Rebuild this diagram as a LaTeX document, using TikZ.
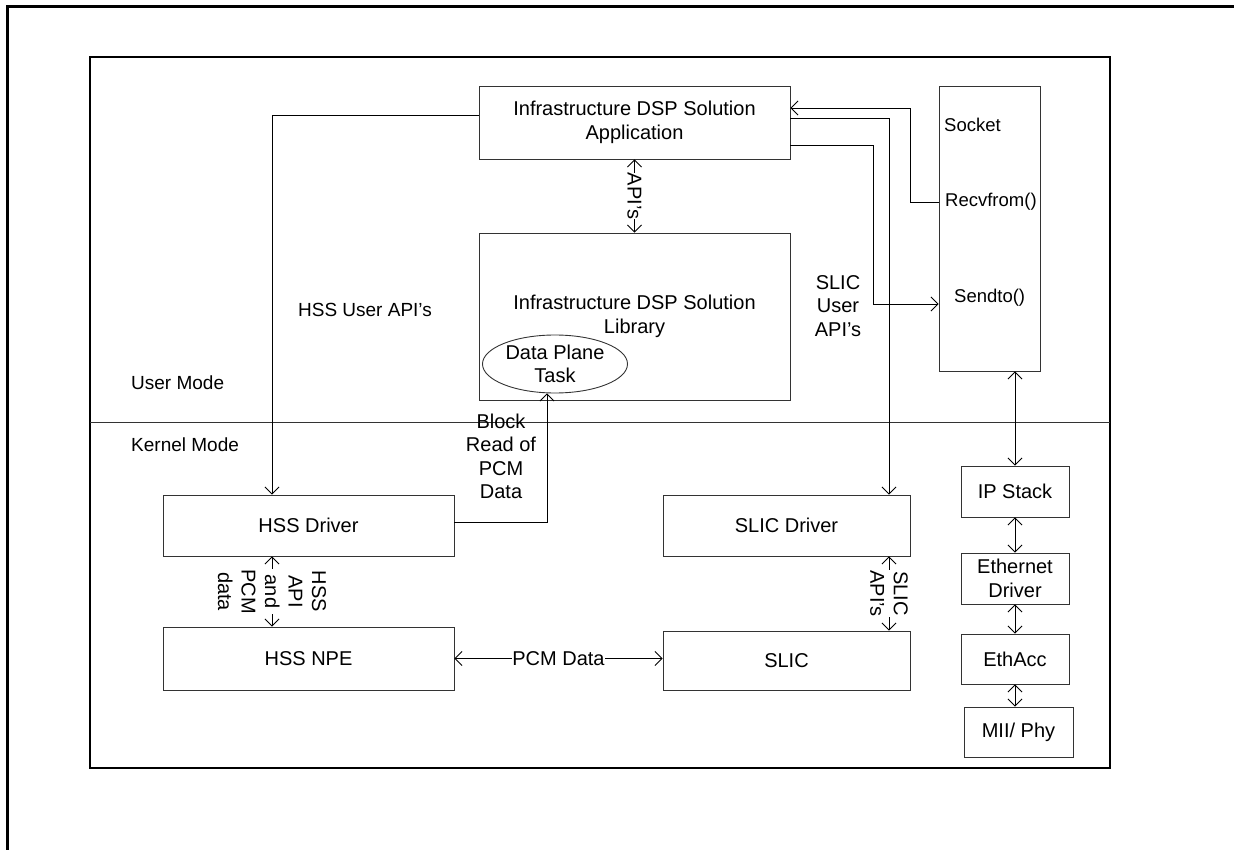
\documentclass[tikz,border=0pt]{standalone}
\usepackage{fontspec}
\setmainfont{Liberation Sans}
\usepackage{tikz}
\usetikzlibrary{arrows.meta,positioning,shapes.geometric,calc}
\usepackage{xcolor}
\definecolor{Edge}{HTML}{333333}
\newcommand{\diagfont}{\fontsize{20}{23.5}\selectfont}
\newcommand{\sidefont}{\fontsize{19}{22.5}\selectfont}
\tikzset{
  blk/.style={draw=Edge, line width=0.9pt, align=center, inner sep=0pt,
    font=\diagfont},
  note/.style={align=center, font=\diagfont, inner sep=1pt},
  side/.style={anchor=west, font=\sidefont, inner sep=0pt},
  sock/.style={side, font=\fontsize{18.5}{22}\selectfont},
  onearr/.style={-{Straight Barb[length=7pt,width=14pt]}, line width=0.9pt},
  twoarr/.style={{Straight Barb[length=7pt,width=14pt]}-{Straight Barb[length=7pt,width=14pt]},
    line width=0.9pt},
}

\begin{document}
\begin{tikzpicture}[x=1pt, y=-1pt,
  rotnote/.style={note, rotate=-90, fill=white, inner sep=0pt},
]
  \useasboundingbox (0,0) rectangle (1234,850);
  % frames
  \draw[line width=3pt] (7,850) -- (7,7) -- (1234,7);
  \draw[line width=2pt] (90,57) rectangle (1110,768);
  \draw[line width=0.9pt, Edge] (90,422) -- (1110,422);
  \node[side] (umode) at (131,383) {User Mode};
  \node[side] (kmode) at (131,445) {Kernel Mode};

  % user side
  \node[blk, minimum width=311pt, minimum height=73pt] (app) at (634.5,122.5)
    {Infrastructure DSP Solution\\Application};
  \node[blk, minimum width=311pt, minimum height=167pt] (lib) at (634.5,316.5)
    {Infrastructure DSP Solution\\Library};
  \node[blk, ellipse, minimum width=145pt, minimum height=58pt] (dpt) at (555,364) {};
  \node[note] (dpttxt) at (dpt) {Data Plane\\Task};
  \node[blk, minimum width=101pt, minimum height=285pt] (socket) at (989.5,228.5) {};
  \node[sock] (sockname) at (944,125) {Socket};
  \node[sock] (recv) at (945,202) {Recvfrom()};
  \node[sock] (send) at (954,298) {Sendto()};

  % kernel side
  \node[blk, minimum width=291pt, minimum height=61pt] (hssdrv) at (308.5,525.5) {HSS Driver};
  \node[blk, minimum width=291pt, minimum height=63pt] (hssnpe) at (308.5,658.5) {HSS NPE};
  \node[blk, minimum width=247pt, minimum height=61pt] (slicdrv) at (786.5,525.5) {SLIC Driver};
  \node[blk, minimum width=247pt, minimum height=59pt] (slic) at (786.5,660.5) {SLIC};
  \node[blk, minimum width=108pt, minimum height=51pt] (ipstack) at (1015,491.5) {IP Stack};
  \node[blk, minimum width=108pt, minimum height=51pt] (eth) at (1015,578.5) {Ethernet\\Driver};
  \node[blk, minimum width=108pt, minimum height=50pt] (ethacc) at (1015,659) {EthAcc};
  \node[blk, minimum width=109pt, minimum height=50pt] (mii) at (1018.5,732) {MII/ Phy};

  \node[note, font=\sidefont] (hssapi) at (365,310) {HSS User API's};
  \node[note] (slicapi) at (838,306) {SLIC\\User\\API's};
  \node[note] (blkread) at (501,456.5) {Block\\Read of\\PCM\\Data};

  % connectors
  \draw[twoarr] (app.south) -- node[rotnote] {API's} (lib.north);
  \draw[onearr] (socket.west |- recv) -| (910,150) |- ([yshift=14.5pt]app.east);
  \draw[onearr] ([yshift=4.5pt]app.east) -| ([xshift=102.5pt]slicdrv.north);
  \draw[onearr] ([yshift=-22.5pt]app.east) -| (873,250) |- ([yshift=-6pt]socket.west |- send);
  \draw[onearr] ([yshift=7.5pt]app.west) -| ([xshift=-36.5pt]hssdrv.north);
  \draw[onearr] ([yshift=3.5pt]hssdrv.east) -| ([xshift=-8pt]dpt.south);
  \draw[twoarr] ([xshift=-36.5pt]hssdrv.south) -- node[rotnote] {HSS\\API\\and\\PCM\\data}
    ([xshift=-36.5pt]hssnpe.north);
  \draw[twoarr] ([xshift=102.5pt]slicdrv.south) -- node[rotnote] {SLIC\\API's}
    ([xshift=102.5pt]slic.north);
  \draw[twoarr] (hssnpe.east) -- node[note, fill=white, inner sep=0pt] {PCM Data}
    (slic.west |- hssnpe.east);
  \draw[twoarr] (ipstack.north |- socket.south) -- (ipstack.north);
  \draw[twoarr] (ipstack.south) -- (eth.north);
  \draw[twoarr] (eth.south) -- (ethacc.north);
  \draw[twoarr] (ethacc.south) -- (ethacc.south |- mii.north);
\end{tikzpicture}
\end{document}
